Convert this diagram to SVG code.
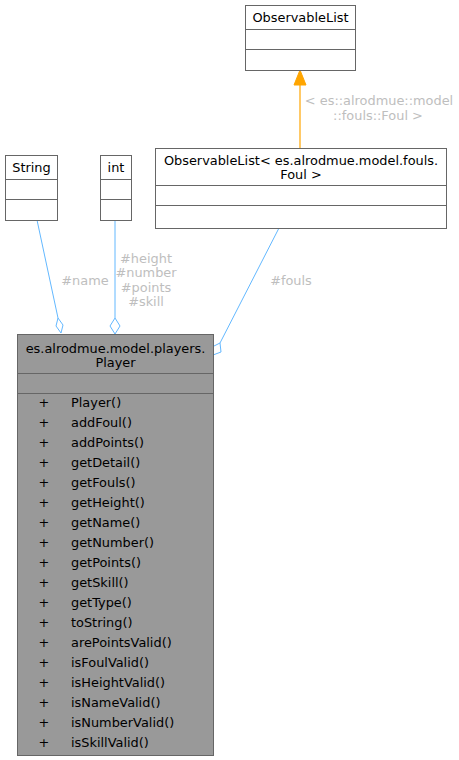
<svg xmlns="http://www.w3.org/2000/svg" width="459" height="760" viewBox="0 0 459 760">
<style>
text{font-family:"DejaVu Sans",sans-serif;font-size:12.9px;fill:#000}
.box{fill:#fff;stroke:#666;stroke-width:1}
.sep{stroke:#666;stroke-width:1}
.main{fill:#999;stroke:#666;stroke-width:1}
.lbl{fill:#bebebe;text-anchor:middle}
.c{text-anchor:middle}
.agg{fill:none;stroke:#63b8ff;stroke-width:1}
.diam{fill:none;stroke:#63b8ff;stroke-width:1}
</style>
<rect width="459" height="760" fill="#fff"/>
<g id="edges">
<path class="agg" d="M37,220 L58,318"/>
<polygon class="diam" points="61,333 56,326 58,318 63,325"/>
<path class="agg" d="M115,220 L115,318"/>
<polygon class="diam" points="115,334 110,326 115,318 120,326"/>
<path class="agg" d="M279,228 L220,343"/>
<polygon class="diam" points="213,355 212,347 220,343 221,352"/>
<path d="M300,148 L300,85" stroke="#ffa500" stroke-width="1.2" fill="none"/>
<polygon points="300,70 294,85 306,85" fill="#ffa500" stroke="#ffa500"/>
<text class="lbl" x="85" y="285">#name</text>
<text class="lbl" x="146" y="263">#height</text>
<text class="lbl" x="146" y="277">#number</text>
<text class="lbl" x="146" y="292">#points</text>
<text class="lbl" x="146" y="306">#skill</text>
<text class="lbl" x="291" y="285">#fouls</text>
<text class="lbl" x="379" y="105">&lt; es::alrodmue::model</text>
<text class="lbl" x="378" y="120">::fouls::Foul &gt;</text>
</g>
<g id="ObservableList">
<rect class="box" x="245.5" y="5.5" width="110" height="65"/>
<path class="sep" d="M245.5,29.5 H355.5 M245.5,49.5 H355.5"/>
<text class="c" x="300.5" y="22">ObservableList</text>
</g>
<g id="String">
<rect class="box" x="5.5" y="155.5" width="52" height="65"/>
<path class="sep" d="M5.5,179.5 H57.5 M5.5,199.5 H57.5"/>
<text class="c" x="31.5" y="172">String</text>
</g>
<g id="int">
<rect class="box" x="100.5" y="155.5" width="31" height="65"/>
<path class="sep" d="M100.5,179.5 H131.5 M100.5,199.5 H131.5"/>
<text class="c" x="116" y="172">int</text>
</g>
<g id="ObservableListFoul">
<rect class="box" x="155.5" y="148.5" width="291" height="80"/>
<path class="sep" d="M155.5,185.5 H446.5 M155.5,205.5 H446.5"/>
<text class="c" x="301" y="165">ObservableList&lt; es.alrodmue.model.fouls.</text>
<text class="c" x="301" y="179">Foul &gt;</text>
</g>
<g id="Player">
<rect class="main" x="17.5" y="334.5" width="196" height="421"/>
<path class="sep" d="M17.5,373.5 H213.5 M17.5,393.5 H213.5"/>
<text class="c" x="115.5" y="353">es.alrodmue.model.players.</text>
<text class="c" x="115.5" y="367">Player</text>
<g class="c">
<text x="44" y="407">+</text><text x="44" y="427">+</text><text x="44" y="447">+</text><text x="44" y="467">+</text><text x="44" y="487">+</text><text x="44" y="507">+</text><text x="44" y="527">+</text><text x="44" y="547">+</text><text x="44" y="567">+</text><text x="44" y="587">+</text><text x="44" y="607">+</text><text x="44" y="627">+</text><text x="44" y="647">+</text><text x="44" y="667">+</text><text x="44" y="687">+</text><text x="44" y="707">+</text><text x="44" y="727">+</text><text x="44" y="747">+</text>
</g>
<text x="71" y="407">Player()</text>
<text x="71" y="427">addFoul()</text>
<text x="71" y="447">addPoints()</text>
<text x="71" y="467">getDetail()</text>
<text x="71" y="487">getFouls()</text>
<text x="71" y="507">getHeight()</text>
<text x="71" y="527">getName()</text>
<text x="71" y="547">getNumber()</text>
<text x="71" y="567">getPoints()</text>
<text x="71" y="587">getSkill()</text>
<text x="71" y="607">getType()</text>
<text x="71" y="627">toString()</text>
<text x="71" y="647">arePointsValid()</text>
<text x="71" y="667">isFoulValid()</text>
<text x="71" y="687">isHeightValid()</text>
<text x="71" y="707">isNameValid()</text>
<text x="71" y="727">isNumberValid()</text>
<text x="71" y="747">isSkillValid()</text>
</g>
</svg>
